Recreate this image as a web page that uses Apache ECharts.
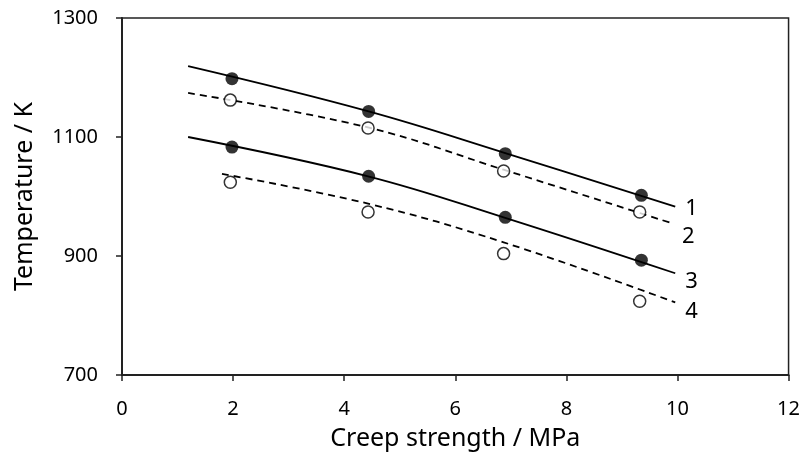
<!DOCTYPE html>
<html>
<head>
<meta charset="utf-8">
<script src="https://cdn.jsdelivr.net/npm/echarts@6/dist/echarts.min.js"></script>
<style>
  html, body { margin: 0; padding: 0; background: #fff; }
  #chart { width: 803px; height: 467px; }
</style>
</head>
<body>
<div id="chart"></div>
<script>
// measured points (filled = curves 1 and 3, open = curves 2 and 4)
var filledX = [1.98, 4.44, 6.90, 9.35];
var openX = [1.95, 4.43, 6.87, 9.32];
var points1 = [1198, 1143, 1072, 1002];
var points2 = [1162, 1115, 1043, 974];
var points3 = [1083, 1034, 965, 893];
var points4 = [1024, 974, 904, 824];

// fitted curves
var curve1X = [1.19, 4.44, 6.90, 9.96];
var curve1Y = [1219, 1143, 1073, 983];
var curve2X = [1.19, 4.43, 6.87, 9.90];
var curve2Y = [1174, 1116, 1045, 955];
var curve3X = [1.19, 4.43, 6.87, 9.96];
var curve3Y = [1100, 1034, 965, 871];
var curve4X = [1.80, 4.43, 6.87, 9.96];
var curve4Y = [1038, 988, 923, 822];

var curveNames = ['1', '2', '3', '4'];

function pairs(xs, ys) {
  return xs.map(function (x, i) { return [x, ys[i]]; });
}

var font = 'Noto Sans';
var ink = '#000';

function curve(name, xs, ys, dashed, dy) {
  return {
    name: name,
    type: 'line',
    data: pairs(xs, ys),
    smooth: 0.4,
    showSymbol: false,
    silent: true,
    lineStyle: { color: ink, width: 1.8, type: dashed ? [7, 5] : 'solid' },
    endLabel: {
      show: true,
      formatter: name,
      distance: 10,
      offset: [0, dy],
      color: ink,
      fontFamily: font,
      fontSize: 22
    },
    z: 2
  };
}

function dots(xs, ys, filled) {
  return {
    type: 'scatter',
    data: pairs(xs, ys),
    symbol: 'circle',
    symbolSize: filled ? 13 : 12,
    itemStyle: filled
      ? { color: ink }
      : { color: '#fff', borderColor: ink, borderWidth: 1.5 },
    z: 3
  };
}

var chart = echarts.init(document.getElementById('chart'));
chart.setOption({
  animation: false,
  backgroundColor: '#fff',
  grid: {
    left: 122, right: 13, top: 18, bottom: 92,
    show: true, borderColor: '#222', borderWidth: 1.5
  },
  xAxis: {
    type: 'value',
    min: 0, max: 12, interval: 2,
    name: 'Creep strength / MPa',
    nameLocation: 'middle',
    nameGap: 51,
    nameTextStyle: { color: ink, fontFamily: font, fontSize: 25 },
    axisLine: { lineStyle: { color: '#222', width: 2 } },
    axisTick: { show: true, length: 6, lineStyle: { color: '#222', width: 1.5 } },
    axisLabel: { color: ink, fontFamily: font, fontSize: 20, margin: 24 },
    splitLine: { show: false }
  },
  yAxis: {
    type: 'value',
    min: 700, max: 1300, interval: 200,
    name: 'Temperature / K',
    nameLocation: 'middle',
    nameGap: 85,
    nameTextStyle: { color: ink, fontFamily: font, fontSize: 25 },
    axisLine: { show: true, lineStyle: { color: '#222', width: 2 } },
    axisTick: { show: true, length: 6, lineStyle: { color: '#222', width: 1.5 } },
    axisLabel: {
      color: ink, fontFamily: font, fontSize: 20, margin: 24,
      formatter: function (v) { return String(v); }
    },
    splitLine: { show: false }
  },
  series: [
    curve(curveNames[0], curve1X, curve1Y, false, 2),
    curve(curveNames[1], curve2X, curve2Y, true, 13),
    curve(curveNames[2], curve3X, curve3Y, false, 8),
    curve(curveNames[3], curve4X, curve4Y, true, 9),
    dots(filledX, points1, true),
    dots(openX, points2, false),
    dots(filledX, points3, true),
    dots(openX, points4, false)
  ]
});
</script>
</body>
</html>
